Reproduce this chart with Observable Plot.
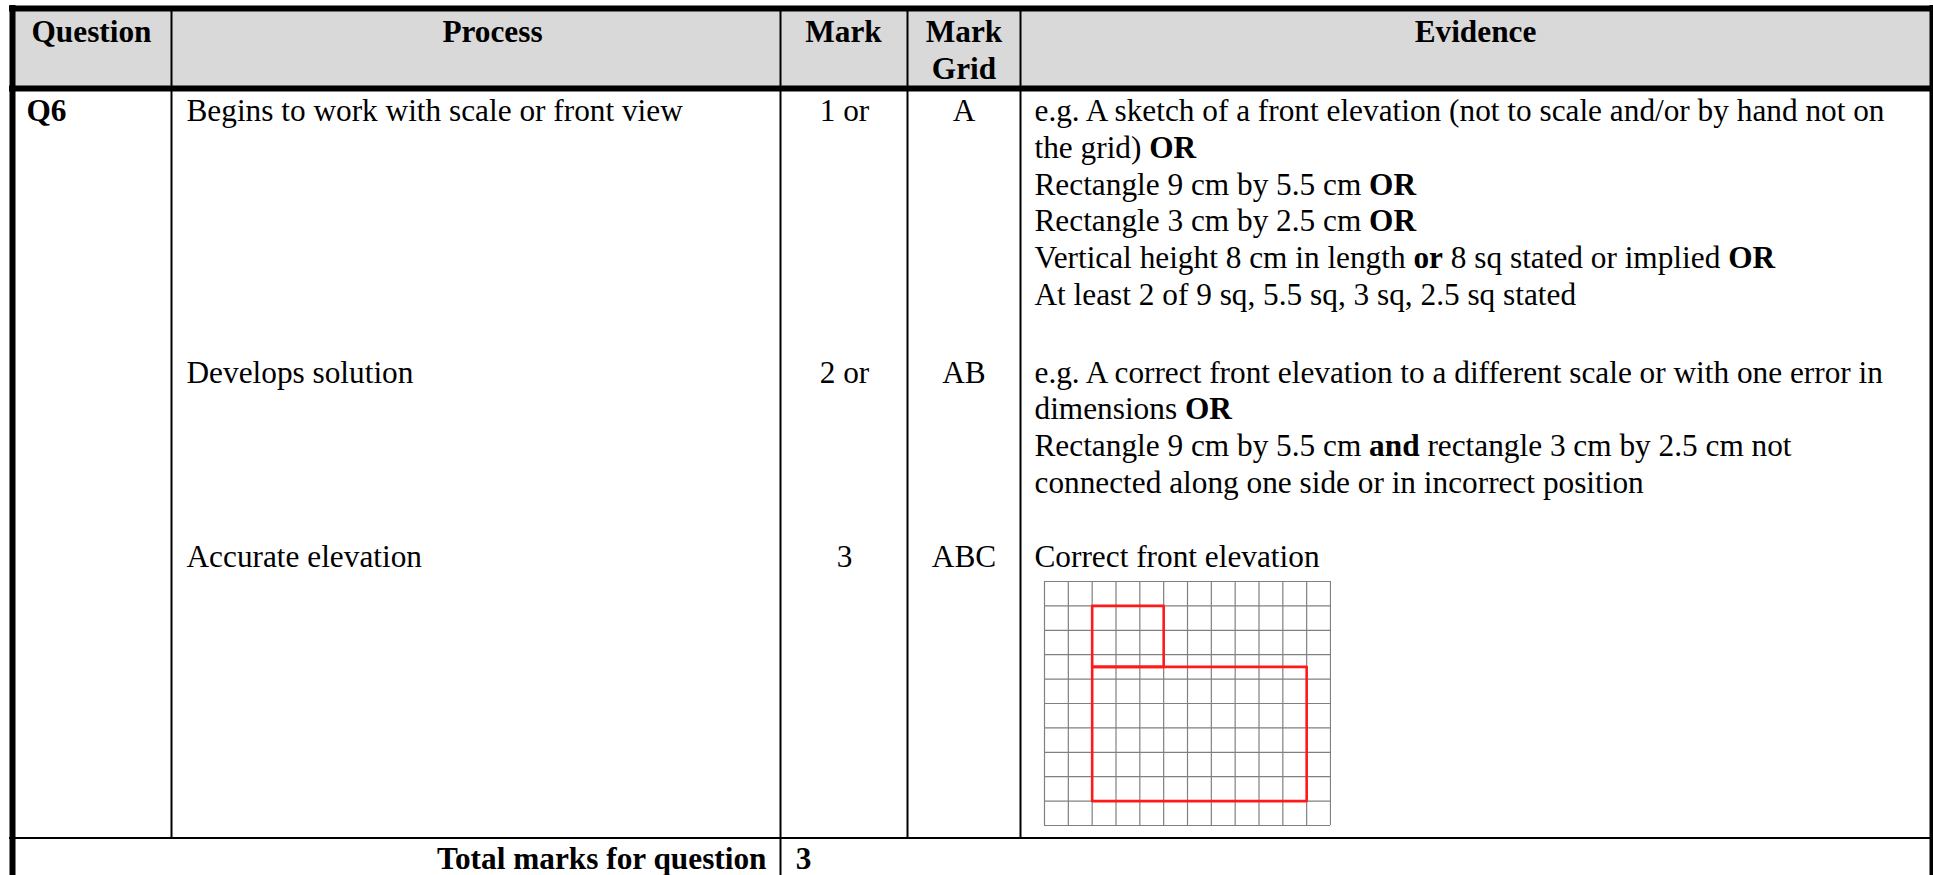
<!DOCTYPE html>
<html><head><meta charset="utf-8">
<script src="https://cdn.jsdelivr.net/npm/d3@7"></script>
<script src="https://cdn.jsdelivr.net/npm/@observablehq/plot@0.6"></script>
<style>html,body{margin:0;padding:0;background:#fff;overflow:hidden}#wrap{position:relative;width:1933px;height:875px}#wrap svg{position:absolute;background:transparent;max-width:none}</style>
</head><body><div id="wrap"></div>
<script>
const headers = ["Question","Process","Mark","Mark","Grid","Evidence"];
const question = "Q6";
const processes = ["Begins to work with scale or front view","Develops solution","Accurate elevation"];
const marks = ["1 or","2 or","3"];
const markGrid = ["A","AB","ABC"];
const evidence = [
 "e.g. A sketch of a front elevation (not to scale and/or by hand not on",
 "the grid) **OR**",
 "Rectangle 9 cm by 5.5 cm **OR**",
 "Rectangle 3 cm by 2.5 cm **OR**",
 "Vertical height 8 cm in length **or** 8 sq stated or implied **OR**",
 "At least 2 of 9 sq, 5.5 sq, 3 sq, 2.5 sq stated",
 "e.g. A correct front elevation to a different scale or with one error in",
 "dimensions **OR**",
 "Rectangle 9 cm by 5.5 cm **and** rectangle 3 cm by 2.5 cm not",
 "connected along one side or in incorrect position",
 "Correct front elevation"
];
const totalLabel = "Total marks for question";
const totalValue = "3";
// elevation drawing, in grid squares
const gridCols = d3.range(0,13), gridRows = d3.range(0,11);
const upperRect = [[2,1],[5,1],[5,3.5],[2,3.5],[2,1]];
const lowerRect = [[2,3.5],[11,3.5],[11,9],[2,9],[2,3.5]];

// page layout of the table
const colLines = [171,780,907,1020], evidenceLeft = 1034, leftText = 26;
const evidenceY = [110,147,184,220,257,294,372,408,445,482,556];
const rowY = [110,372,556];
const font = {fontFamily:"'Liberation Serif',serif",fontSize:31.3,fill:"#000",stroke:"none"};
const bold = {...font,fontWeight:"bold"};
const T = (data,o)=>Plot.text(data,{text:d=>d[0],x:d=>d[1],y:d=>d[2],lineAnchor:"middle",...o});

const main = Plot.plot({
  width:1933,height:875,margin:0,
  x:{domain:[0,1933],range:[0,1933],axis:null},
  y:{domain:[0,875],range:[0,875],axis:null},
  marks:[
    Plot.rect([0],{x1:12,x2:1930,y1:8,y2:87,fill:"#d9d9d9"}),
    Plot.ruleX(colLines,{y1:8,y2:838,stroke:"#000",strokeWidth:2}),
    Plot.ruleX([780],{y1:838,y2:875,stroke:"#000",strokeWidth:2}),
    Plot.ruleX([12],{y1:5,y2:875,stroke:"#000",strokeWidth:6}),
    Plot.ruleX([1932],{y1:5,y2:875,stroke:"#000",strokeWidth:6}),
    Plot.ruleY([8],{x1:9,x2:1933,stroke:"#000",strokeWidth:6}),
    Plot.ruleY([88],{x1:9,x2:1933,stroke:"#000",strokeWidth:6}),
    Plot.ruleY([837.5],{x1:9,x2:1933,stroke:"#000",strokeWidth:2}),
    T([[headers[0],91,31],[headers[1],492,31],[headers[2],843,31],[headers[3],963.5,31],[headers[4],963.5,68],[headers[5],1475,31],[totalValue,803,858]],bold),
    T([[question,leftText,110]],{...bold,textAnchor:"start"}),
    T([[totalLabel,766,858]],{...bold,textAnchor:"end"}),
    T(processes.map((p,i)=>[p,186,rowY[i]]),{...font,textAnchor:"start"}),
    T(marks.map((p,i)=>[p,844,rowY[i]]),font),
    T(markGrid.map((p,i)=>[p,963.5,rowY[i]]),font),
    T(evidence.map((p,i)=>[p,evidenceLeft,evidenceY[i]]),{...font,textAnchor:"start"})
  ]
});
// **word** runs in a line become bold spans
main.querySelectorAll("text").forEach(t=>{
  const nodes=[...t.childNodes].filter(n=>n.textContent.includes("**"));
  nodes.forEach(n=>{
    const parts=n.textContent.split("**");
    const ns="http://www.w3.org/2000/svg";
    const frag=document.createDocumentFragment();
    parts.forEach((s,i)=>{
      if(i%2){const b=document.createElementNS(ns,"tspan");b.setAttribute("font-weight","bold");b.textContent=s;frag.appendChild(b);}
      else frag.appendChild(document.createTextNode(s));
    });
    if(n.nodeType===3) t.replaceChild(frag,n); else {n.textContent="";n.appendChild(frag);}
  });
});
const wrap=document.getElementById("wrap");
main.style.left="0";main.style.top="0";
wrap.appendChild(main);

const grid = Plot.plot({
  width:288,height:246,margin:1,
  x:{domain:[0,12],axis:null},
  y:{domain:[0,10],range:[1,245],axis:null},
  marks:[
    Plot.ruleX(gridCols,{stroke:"#808080",strokeWidth:1.2}),
    Plot.ruleY(gridRows,{stroke:"#808080",strokeWidth:1.2}),
    Plot.line(upperRect,{x:d=>d[0],y:d=>d[1],stroke:"#ff1a1a",strokeWidth:2.6}),
    Plot.line(lowerRect,{x:d=>d[0],y:d=>d[1],stroke:"#ff1a1a",strokeWidth:2.6})
  ]
});
grid.style.left="1043px";grid.style.top="580px";
wrap.appendChild(grid);
</script></body></html>
